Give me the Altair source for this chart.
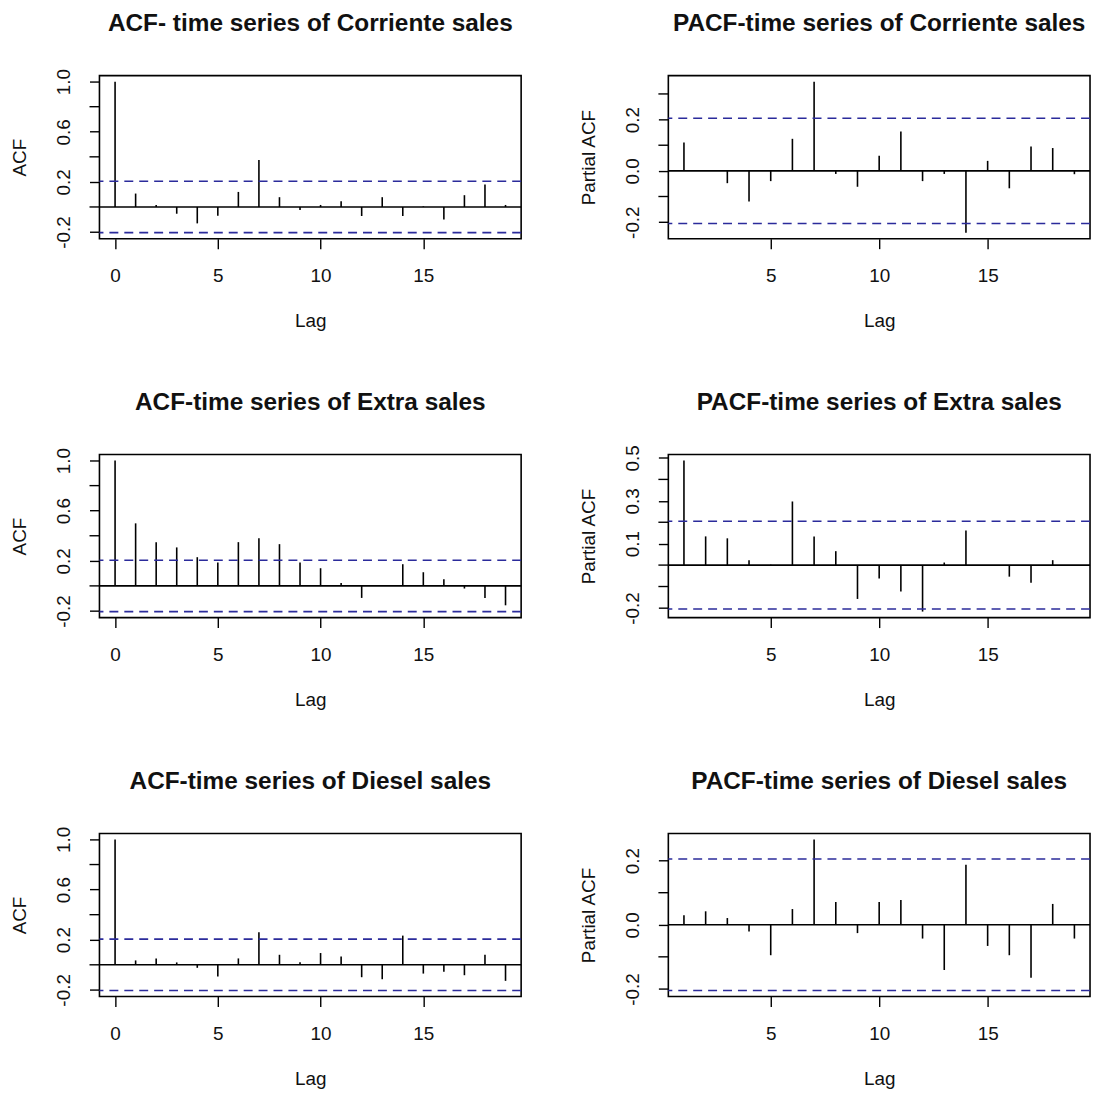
import altair as alt
import pandas as pd

# ---- data ----
acf_lags = list(range(0, 20))
pacf_lags = list(range(1, 20))

acf_corriente = [1.0, 0.107, 0.016, -0.054, -0.131, -0.07, 0.12, 0.375, 0.078, -0.024,
                 0.016, 0.046, -0.072, 0.078, -0.072, 0.005, -0.10, 0.094, 0.18, 0.016]
pacf_corriente = [0.111, 0.003, -0.048, -0.119, -0.04, 0.125, 0.348, -0.012, -0.062, 0.059,
                  0.154, -0.04, -0.012, -0.241, 0.039, -0.068, 0.095, 0.089, -0.013]

acf_extra = [1.0, 0.499, 0.349, 0.307, 0.229, 0.187, 0.349, 0.381, 0.333, 0.187,
             0.141, 0.024, -0.096, 0.002, 0.173, 0.109, 0.053, -0.021, -0.096, -0.155]
pacf_extra = [0.488, 0.134, 0.125, 0.023, 0.002, 0.297, 0.134, 0.065, -0.158, -0.063,
              -0.123, -0.217, 0.012, 0.162, 0.0, -0.054, -0.082, 0.023, 0.0]

acf_diesel = [1.0, 0.035, 0.051, 0.019, -0.024, -0.094, 0.051, 0.259, 0.08, 0.021,
              0.094, 0.067, -0.099, -0.115, 0.233, -0.07, -0.056, -0.083, 0.08, -0.128]
pacf_diesel = [0.030, 0.042, 0.021, -0.021, -0.095, 0.049, 0.266, 0.071, -0.026, 0.071,
               0.077, -0.043, -0.141, 0.187, -0.066, -0.095, -0.165, 0.065, -0.043]

ci_level = 0.205

titles = [
    "ACF- time series of Corriente sales", "PACF-time series of Corriente sales",
    "ACF-time series of Extra sales", "PACF-time series of Extra sales",
    "ACF-time series of Diesel sales", "PACF-time series of Diesel sales",
]

acf_xticks = [0, 5, 10, 15]
pacf_xticks = [5, 10, 15]
# labelled y ticks and unlabelled y ticks
acf_ylabels = [-0.2, 0.2, 0.6, 1.0]
acf_yminor = [0.0, 0.4, 0.8]
pacf_c_ylabels = [-0.2, 0.0, 0.2]
pacf_c_yminor = [-0.1, 0.1, 0.3]
pacf_e_ylabels = [-0.2, 0.1, 0.3, 0.5]
pacf_e_yminor = [-0.1, 0.0, 0.2, 0.4]
pacf_d_ylabels = [-0.2, 0.0, 0.2]
pacf_d_yminor = [-0.1, 0.1]

FONT = "Liberation Sans"
W, H = 424, 164
CI_COLOR = "#2b2b9b"
TICK = 10


def ext(lo, hi):
    r = hi - lo
    return [lo - 0.04 * r, hi + 0.04 * r]


LABEL_EXPR = "(datum.value < -1e-9 ? '-' : '') + format(abs(datum.value), '.1f')"


def panel(lags, values, title, ytitle, xticks, ylabels, yminor):
    df = pd.DataFrame({"lag": lags, "v": values, "z": [0.0] * len(lags)})
    ydom = ext(min(min(values), -ci_level), max(max(values), ci_level))
    xdom = ext(min(lags), max(lags))
    xs = alt.Scale(domain=xdom, nice=False, zero=False)
    ys = alt.Scale(domain=ydom, nice=False, zero=False)

    xaxis = alt.Axis(values=xticks, title="Lag", format="d",
                     labelBaseline="alphabetic", labelPadding=33,
                     titleBaseline="alphabetic", titleY=88)
    yaxis = alt.Axis(values=ylabels, title=ytitle, labelExpr=LABEL_EXPR,
                     labelOverlap=False,
                     labelAngle=270, labelAlign="center", labelBaseline="alphabetic",
                     labelPadding=20, titleAngle=270, titleAlign="center",
                     titleBaseline="alphabetic", titleX=-74, titleY=H / 2)

    bars = alt.Chart(df).mark_rule(color="black", strokeWidth=1.6).encode(
        x=alt.X("lag:Q", scale=xs, axis=xaxis),
        y=alt.Y("v:Q", scale=ys, axis=yaxis),
        y2="z:Q",
    )
    zero = alt.Chart(pd.DataFrame({"v": [0.0]})).mark_rule(
        color="black", strokeWidth=1.6).encode(y=alt.Y("v:Q"))
    ci = alt.Chart(pd.DataFrame({"v": [ci_level, -ci_level]})).mark_rule(
        color=CI_COLOR, strokeWidth=1.6, strokeDash=[9, 6]).encode(y=alt.Y("v:Q"))
    minor = alt.Chart(pd.DataFrame({"v": yminor})).mark_rule(
        color="black", strokeWidth=1.4).encode(
        y=alt.Y("v:Q"), x=alt.value(-TICK), x2=alt.value(0))
    head = alt.Chart(pd.DataFrame({"t": [title]})).mark_text(
        font=FONT, fontSize=24.5, fontWeight="bold", color="#111",
        align="center", baseline="alphabetic").encode(
        text="t:N", x=alt.value(W / 2), y=alt.value(-45))

    return alt.layer(bars, ci, zero, minor, head).properties(width=W, height=H)


panels = [
    panel(acf_lags, acf_corriente, titles[0], "ACF", acf_xticks, acf_ylabels, acf_yminor),
    panel(pacf_lags, pacf_corriente, titles[1], "Partial ACF", pacf_xticks, pacf_c_ylabels, pacf_c_yminor),
    panel(acf_lags, acf_extra, titles[2], "ACF", acf_xticks, acf_ylabels, acf_yminor),
    panel(pacf_lags, pacf_extra, titles[3], "Partial ACF", pacf_xticks, pacf_e_ylabels, pacf_e_yminor),
    panel(acf_lags, acf_diesel, titles[4], "ACF", acf_xticks, acf_ylabels, acf_yminor),
    panel(pacf_lags, pacf_diesel, titles[5], "Partial ACF", pacf_xticks, pacf_d_ylabels, pacf_d_yminor),
]

chart = alt.concat(*panels, columns=2, spacing={"row": 217, "column": 148},
                   bounds="flush").properties(
    padding={"left": 10, "top": 7, "right": 2, "bottom": 5},
    background="white",
).configure_view(
    stroke="black", strokeWidth=1.6,
).configure_axis(
    grid=False, domain=False, tickColor="black", tickWidth=1.4, tickSize=TICK,
    labelOverlap=False,
    labelFont=FONT, labelFontSize=19, labelColor="#111",
    titleFont=FONT, titleFontSize=19, titleFontWeight="normal", titleColor="#111",
)

chart.save("out.html", embed_options={"renderer": "svg", "actions": False})
